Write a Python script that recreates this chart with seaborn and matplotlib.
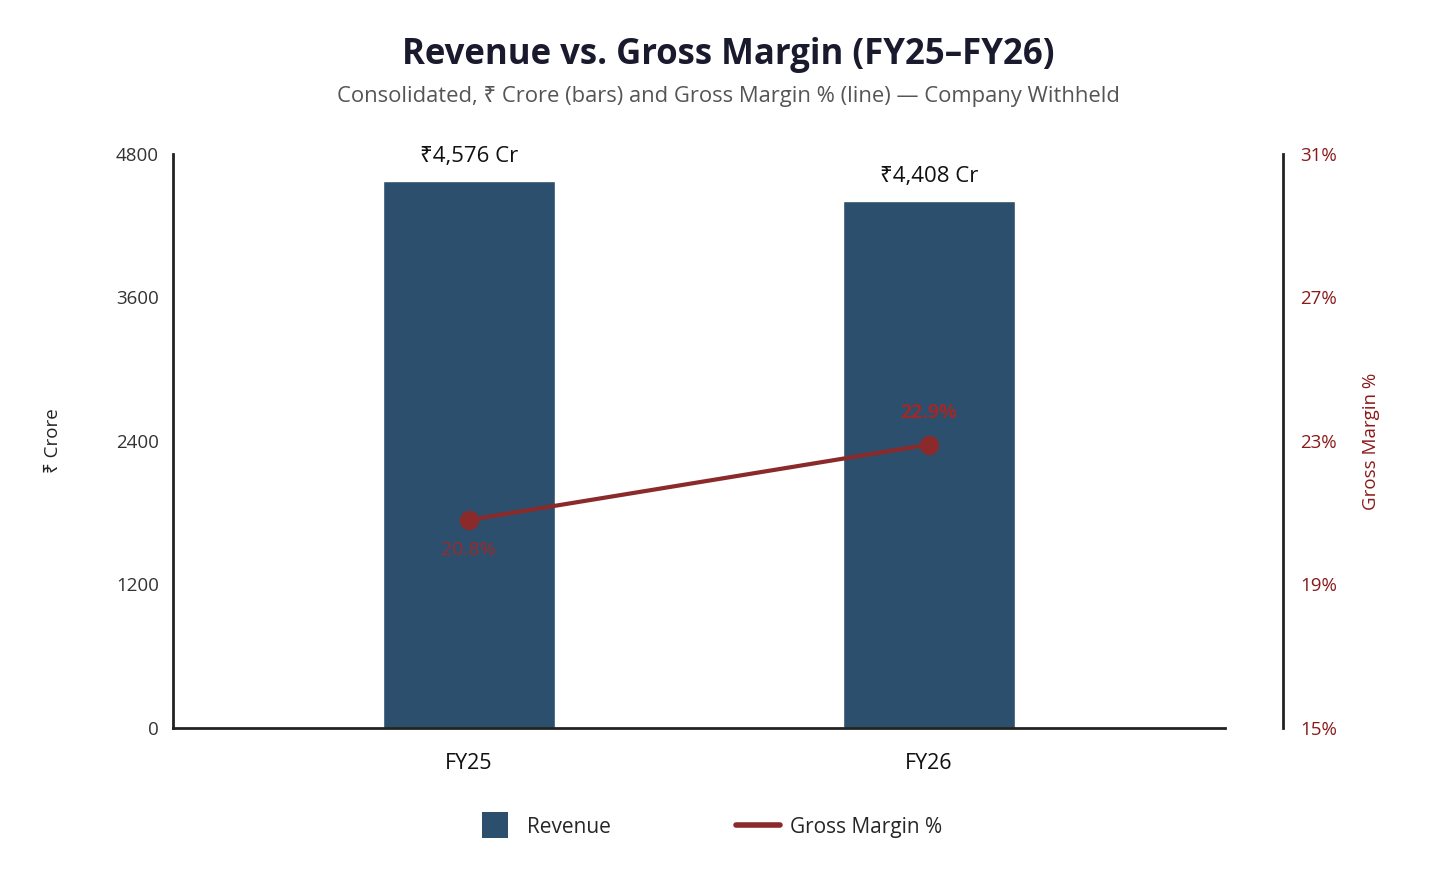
import pandas as pd
import seaborn as sns
import matplotlib.pyplot as plt
from matplotlib.lines import Line2D

years = ['FY25', 'FY26']
revenue = [4576, 4408]
gross_margin = [20.8, 22.9]
left_ticks = [0, 1200, 2400, 3600, 4800]
right_ticks = [15, 19, 23, 27, 31]

df = pd.DataFrame({'year': years, 'revenue': revenue, 'margin': gross_margin})

bar_color = '#2c4f6e'
line_color = '#8b2a2a'

sns.set_style('white')
plt.rcParams['font.family'] = ['Open Sans', 'Noto Sans', 'DejaVu Sans']

fig = plt.figure(figsize=(14.56, 8.81), dpi=100)
ax = fig.add_axes([0.1188, 0.1737, 0.7225, 0.6515])

sns.barplot(data=df, x='year', y='revenue', color=bar_color, width=0.374,
            saturation=1, ax=ax)
ax.set_xlim(-0.643, 1.643)
ax.set_ylim(0, 4800)
ax.set_yticks(left_ticks)
ax.set_yticklabels([str(t) for t in left_ticks], fontsize=13.5, color='#333333')
ax.tick_params(axis='x', labelsize=15.5, colors='#111111', length=0, pad=18)
ax.tick_params(axis='y', length=0, pad=10)
ax.set_xlabel('')
ax.set_ylabel('₹ Crore', fontsize=13.5, color='#222222', labelpad=39)
for s in ['top', 'right']:
    ax.spines[s].set_visible(False)
for s in ['left', 'bottom']:
    ax.spines[s].set_color('#222222')
    ax.spines[s].set_linewidth(2)

for i, v in enumerate(revenue):
    ax.annotate(f'₹{v:,} Cr', (i, v), xytext=(0, 10), textcoords='offset points',
                ha='center', va='bottom', fontsize=16, color='#111111')

ax2 = ax.twinx()
ax2.spines['right'].set_position(('outward', 42))
sns.lineplot(data=df, x='year', y='margin', color=line_color, linewidth=3,
             marker='o', markersize=14, markeredgewidth=0, ax=ax2)
ax2.set_ylim(15, 31)
ax2.set_yticks(right_ticks)
ax2.set_yticklabels([f'{t}%' for t in right_ticks], fontsize=13.5, color='#8b1a1a')
ax2.tick_params(axis='y', length=0, pad=12)
ax2.set_ylabel('Gross Margin %', fontsize=13.5, color='#8b1a1a', labelpad=18)
ax2.set_xlabel('')
for s in ['top', 'left', 'bottom']:
    ax2.spines[s].set_visible(False)
ax2.spines['right'].set_color('#222222')
ax2.spines['right'].set_linewidth(2)

ax2.annotate(f'{gross_margin[0]}%', (0, gross_margin[0]), xytext=(0, -22),
             textcoords='offset points', ha='center', va='center',
             fontsize=14, color='#9b2a2a')
ax2.annotate(f'{gross_margin[1]}%', (1, gross_margin[1]), xytext=(0, 23),
             textcoords='offset points', ha='center', va='center',
             fontsize=14, fontweight='bold', color='#9b2a2a')

fig.text(0.5, 0.938, 'Revenue vs. Gross Margin (FY25–FY26)', ha='center',
         va='center', fontsize=25, fontweight='bold', color='#1a1a2e')
fig.text(0.5, 0.891, 'Consolidated, ₹ Crore (bars) and Gross Margin % (line) — Company Withheld',
         ha='center', va='center', fontsize=15.8, color='#555555')

handles = [Line2D([0], [0], linestyle='none', marker='s', markersize=19,
                  markerfacecolor=bar_color, markeredgewidth=0, label='Revenue'),
           Line2D([0], [0], color=line_color, linewidth=4, label='Gross Margin %')]
fig.legend(handles=handles, loc='center', bbox_to_anchor=(0.486, 0.061), ncol=2,
           frameon=False, fontsize=15, handlelength=2.1,
           columnspacing=6.0, handletextpad=0.5)

fig.savefig('out.png', dpi=100)
